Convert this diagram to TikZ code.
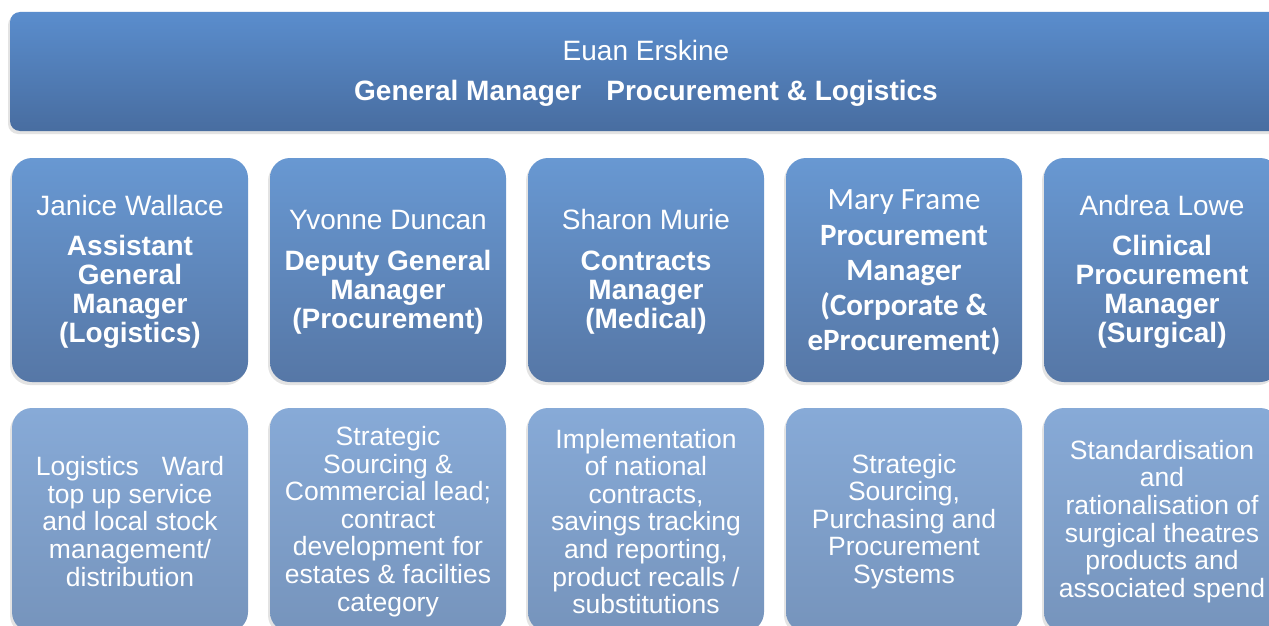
\documentclass[tikz,border=0pt]{standalone}
\usepackage{fontspec}
\setmainfont{Liberation Sans}
\newfontfamily\calfont{Carlito}
\usetikzlibrary{shadows}
\definecolor{topA}{RGB}{90,141,205}
\definecolor{topB}{RGB}{72,109,160}
\definecolor{midA}{RGB}{104,152,210}
\definecolor{midB}{RGB}{86,119,166}
\definecolor{lowA}{RGB}{135,170,215}
\definecolor{lowB}{RGB}{118,148,188}
\begin{document}
\begin{tikzpicture}[x=1pt,y=-1pt,
  shad/.style={drop shadow={opacity=0.22, shadow xshift=-2pt, shadow yshift=-3pt}},
  box/.style={rounded corners=20pt, minimum width=236pt, minimum height=224pt, inner sep=0pt, shad},
  midbox/.style={box, top color=midA, bottom color=midB},
  lowbox/.style={box, top color=lowA, bottom color=lowB},
  txt/.style={text=white, align=center, inner sep=0pt},
  big/.style={font=\fontsize{28}{29}\selectfont},
  small/.style={font=\fontsize{26.5}{27.6}\selectfont},
]
\useasboundingbox (0,0) rectangle (1269,626);
\clip (0,0) rectangle (1269,626);
\fill[white] (0,0) rectangle (1269,626);

% top bar
\node[rounded corners=10pt, minimum width=1272pt, minimum height=119pt, inner sep=0pt, shad,
      top color=topA, bottom color=topB] (gm) at (646,71.5) {};
\node[txt, big] (gmt) at (646,73.5) {Euan Erskine\\[11pt]\textbf{General Manager\hspace{25pt}Procurement \& Logistics}};

% row 2
\node[midbox] (b1) at (130,270) {};
\node[midbox] (b2) at (388,270) {};
\node[midbox] (b3) at (646,270) {};
\node[midbox] (b4) at (904,270) {};
\node[midbox] (b5) at (1162,270) {};

\node[txt, big] (t1) at ([yshift=-2pt]b1.center) {Janice Wallace\\[11pt]\textbf{Assistant}\\\textbf{General}\\\textbf{Manager}\\\textbf{(Logistics)}};
\node[txt, big] (t2) at ([yshift=-2pt]b2.center) {Yvonne Duncan\\[12pt]\textbf{Deputy General}\\\textbf{Manager}\\\textbf{(Procurement)}};
\node[txt, big] (t3) at ([yshift=-2pt]b3.center) {Sharon Murie\\[12pt]\textbf{Contracts}\\\textbf{Manager}\\\textbf{(Medical)}};
\node[txt, font=\calfont\fontsize{31}{35}\selectfont] (t4) at ([yshift=-2pt]b4.center) {Mary Frame\\[1pt]\textbf{Procurement}\\\textbf{Manager}\\\textbf{(Corporate \&}\\\textbf{eProcurement)}};
\node[txt, big] (t5) at ([yshift=-2pt]b5.center) {Andrea Lowe\\[11pt]\textbf{Clinical}\\\textbf{Procurement}\\\textbf{Manager}\\\textbf{(Surgical)}};

% row 3
\node[lowbox] (c1) at (130,520) {};
\node[lowbox] (c2) at (388,520) {};
\node[lowbox] (c3) at (646,520) {};
\node[lowbox] (c4) at (904,520) {};
\node[lowbox] (c5) at (1162,520) {};

\node[txt, small] (u1) at ([yshift=-1.5pt]c1.center) {Logistics\hspace{23pt}Ward\\top up service\\and local stock\\management/\\distribution};
\node[txt, small] (u2) at ([yshift=-1.5pt]c2.center) {Strategic\\Sourcing \&\\Commercial lead;\\contract\\development for\\estates \& facilties\\category};
\node[txt, small] (u3) at ([yshift=-1.5pt]c3.center) {Implementation\\of national\\contracts,\\savings tracking\\and reporting,\\product recalls /\\substitutions};
\node[txt, small] (u4) at ([yshift=-1.5pt]c4.center) {Strategic\\Sourcing,\\Purchasing and\\Procurement\\Systems};
\node[txt, small] (u5) at ([yshift=-1.5pt]c5.center) {Standardisation\\and\\rationalisation of\\surgical theatres\\products and\\associated spend};
\end{tikzpicture}
\end{document}
